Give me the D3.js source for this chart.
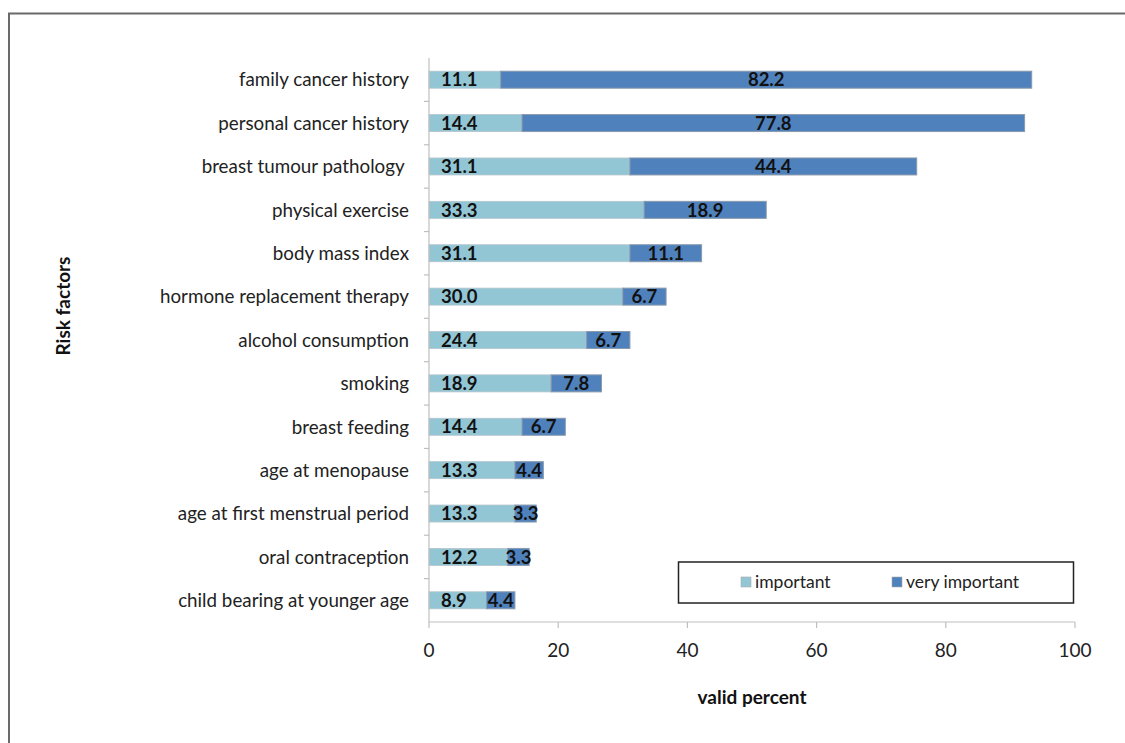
<!DOCTYPE html>
<html>
<head>
<meta charset="utf-8">
<script src="https://cdn.jsdelivr.net/npm/d3@7"></script>
<style>
  body { margin: 0; background: #fff; }
  svg { display: block; font-family: Lato, "Open Sans", sans-serif; }
</style>
</head>
<body>
<div id="chart"></div>
<script>
var categories = [
    'family cancer history',
    'personal cancer history',
    'breast tumour pathology ',
    'physical exercise',
    'body mass index',
    'hormone replacement therapy',
    'alcohol consumption',
    'smoking',
    'breast feeding',
    'age at menopause',
    'age at first menstrual period',
    'oral contraception',
    'child bearing at younger age'
];
var important = [11.1, 14.4, 31.1, 33.3, 31.1, 30.0, 24.4, 18.9, 14.4, 13.3, 13.3, 12.2, 8.9];
var veryImportant = [82.2, 77.8, 44.4, 18.9, 11.1, 6.7, 6.7, 7.8, 6.7, 4.4, 3.3, 3.3, 4.4];
var seriesNames = ['important', 'very important'];
var xTicks = [0, 20, 40, 60, 80, 100];

var colors = ['#93c6d5', '#4f81bd'];

var width = 1125, height = 743;
var svg = d3.select('#chart').append('svg')
    .attr('width', width)
    .attr('height', height);

// outer frame (top and left edges only are visible)
svg.append('path')
    .attr('d', 'M9,743 V13.5 H1125')
    .attr('fill', 'none')
    .attr('stroke', '#6a6a6a')
    .attr('stroke-width', 2);

var x = d3.scaleLinear().domain([0, 100]).range([429, 1075]);
var yBand = d3.scaleBand().domain(categories).range([58, 622]);

var rows = categories.map(function (c, i) {
    return { cat: c, a: important[i], b: veryImportant[i] };
});

// bars
var g = svg.append('g');
rows.forEach(function (d) {
    var yc = yBand(d.cat) + yBand.bandwidth() / 2;
    var h = 17;
    g.append('rect')
        .attr('x', x(0))
        .attr('y', yc - h / 2)
        .attr('width', x(d.a) - x(0))
        .attr('height', h)
        .attr('fill', colors[0])
        .attr('stroke', '#b4c4cc')
        .attr('stroke-width', 0.8);
    g.append('rect')
        .attr('x', x(d.a))
        .attr('y', yc - h / 2)
        .attr('width', x(d.a + d.b) - x(d.a))
        .attr('height', h)
        .attr('fill', colors[1])
        .attr('stroke', '#8a9aac')
        .attr('stroke-width', 1);
    g.append('text')
        .attr('x', x(0) + 12)
        .attr('y', yc)
        .attr('dy', '0.36em')
        .attr('font-size', 18.5)
        .attr('font-weight', 'bold')
        .attr('fill', '#111')
        .text(d.a.toFixed(1));
    g.append('text')
        .attr('x', (x(d.a) + x(d.a + d.b)) / 2)
        .attr('y', yc)
        .attr('dy', '0.36em')
        .attr('text-anchor', 'middle')
        .attr('font-size', 18.5)
        .attr('font-weight', 'bold')
        .attr('fill', '#111')
        .text(d.b.toFixed(1));
});

// y axis
var yAxisG = svg.append('g');
yAxisG.append('line')
    .attr('x1', x(0)).attr('x2', x(0))
    .attr('y1', 58).attr('y2', 622)
    .attr('stroke', '#bfbfbf').attr('stroke-width', 1.2);
yAxisG.selectAll('line.tick')
    .data(categories.slice(1))
    .enter().append('line')
    .attr('class', 'tick')
    .attr('x1', x(0) - 5).attr('x2', x(0))
    .attr('y1', function (d) { return yBand(d); })
    .attr('y2', function (d) { return yBand(d); })
    .attr('stroke', '#bfbfbf').attr('stroke-width', 1.2);
yAxisG.selectAll('text')
    .data(categories)
    .enter().append('text')
    .attr('x', 409)
    .attr('y', function (d) { return yBand(d) + yBand.bandwidth() / 2; })
    .attr('dy', '0.36em')
    .attr('text-anchor', 'end')
    .attr('font-size', 18.8)
    .attr('fill', '#222')
    .style('white-space', 'pre')
    .text(function (d) { return d; });

// x axis
var xAxisG = svg.append('g');
xAxisG.append('line')
    .attr('x1', x(0)).attr('x2', x(100))
    .attr('y1', 622).attr('y2', 622)
    .attr('stroke', '#bfbfbf').attr('stroke-width', 1.2);
xAxisG.selectAll('line.tick')
    .data(xTicks)
    .enter().append('line')
    .attr('class', 'tick')
    .attr('x1', function (d) { return x(d); })
    .attr('x2', function (d) { return x(d); })
    .attr('y1', 622).attr('y2', 628)
    .attr('stroke', '#bfbfbf').attr('stroke-width', 1.2);
xAxisG.selectAll('text')
    .data(xTicks)
    .enter().append('text')
    .attr('x', function (d) { return x(d); })
    .attr('y', 650)
    .attr('dy', '0.36em')
    .attr('text-anchor', 'middle')
    .attr('font-size', 19)
    .attr('fill', '#222')
    .text(function (d) { return d; });

// axis titles
svg.append('text')
    .attr('x', (x(0) + x(100)) / 2)
    .attr('y', 697)
    .attr('dy', '0.36em')
    .attr('text-anchor', 'middle')
    .attr('font-size', 19)
    .attr('font-weight', 'bold')
    .attr('fill', '#111')
    .text('valid percent');
svg.append('text')
    .attr('transform', 'translate(63,306) rotate(-90)')
    .attr('dy', '0.36em')
    .attr('text-anchor', 'middle')
    .attr('font-size', 19)
    .attr('font-weight', 'bold')
    .attr('fill', '#111')
    .text('Risk factors');

// legend
var legend = svg.append('g');
legend.append('rect')
    .attr('x', 678.5).attr('y', 562)
    .attr('width', 395).attr('height', 41)
    .attr('fill', '#fff')
    .attr('stroke', '#222').attr('stroke-width', 1.5);
var legendX = [741, 892];
seriesNames.forEach(function (name, i) {
    legend.append('rect')
        .attr('x', legendX[i]).attr('y', 577)
        .attr('width', 10).attr('height', 10)
        .attr('fill', colors[i])
        .attr('stroke', '#aaa').attr('stroke-width', 0.6);
    legend.append('text')
        .attr('x', legendX[i] + 14)
        .attr('y', 582)
        .attr('dy', '0.36em')
        .attr('font-size', 17.5)
        .attr('fill', '#222')
        .text(name);
});
</script>
</body>
</html>
